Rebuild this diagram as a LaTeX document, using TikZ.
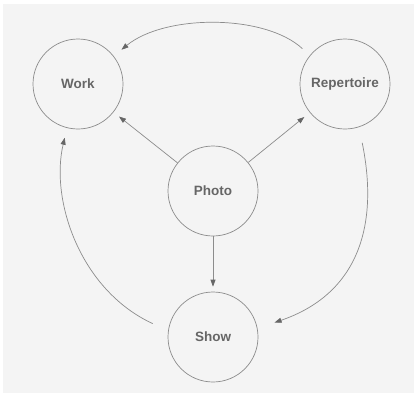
\documentclass[tikz,border=0pt]{standalone}
\usepackage{fontspec}
\setmainfont{Liberation Sans}
\usetikzlibrary{arrows.meta}
\definecolor{bg}{HTML}{F4F4F4}
\definecolor{ln}{HTML}{8C8C8C}
\definecolor{txt}{HTML}{666666}
\begin{document}
\begin{tikzpicture}[x=1pt,y=-1pt,
  circ/.style={circle,draw=ln,line width=0.7pt,minimum size=90pt,inner sep=0pt,
    font=\fontsize{13.5}{16}\selectfont\bfseries,text=txt},
  conn/.style={draw=ln,line width=0.7pt,-{Triangle[length=7pt,width=5pt,color=txt]}}]
\useasboundingbox (0,0) rectangle (417,394);
\fill[bg] (3,4) rectangle (414,393);
\node[circ] (work) at (78,84) {Work};
\node[circ] (rep) at (345,84) {Repertoire};
\node[circ] (photo) at (213,191) {Photo};
\node[circ] (show) at (213,337) {Show};
\draw[conn,shorten >=7pt] (photo) -- (work);
\draw[conn,shorten >=7pt] (photo) -- (rep);
\draw[conn,shorten >=5pt] (photo) -- (show);
\draw[conn,shorten <=10pt,shorten >=10pt] (rep.141) .. controls (265,14) and (165,14) .. (work.38);
\draw[conn,shorten <=16pt,shorten >=18pt] (rep.-72) .. controls (380,230) and (355,295) .. (show.11);
\draw[conn,shorten <=17pt,shorten >=10pt] (show.172) .. controls (80,290) and (50,200) .. (work.256);
\end{tikzpicture}
\end{document}
